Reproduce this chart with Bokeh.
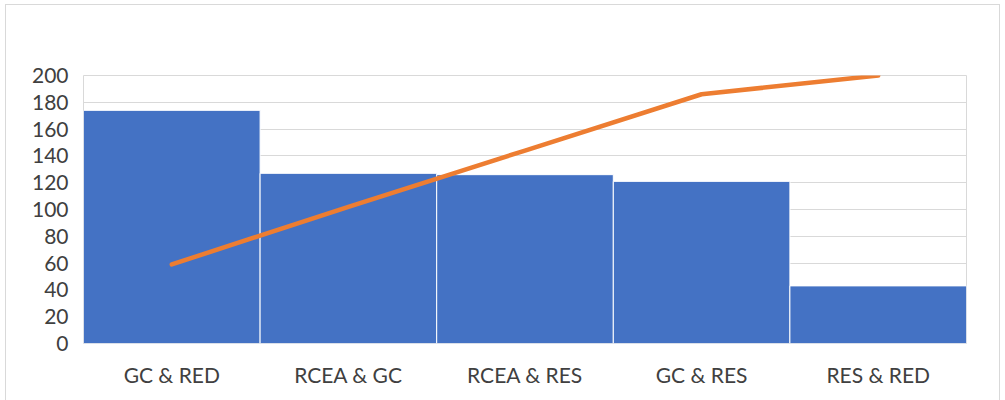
from bokeh.plotting import figure
from bokeh.models import FactorRange, Range1d, FixedTicker, ColumnDataSource
from bokeh.embed import file_html
from bokeh.resources import INLINE

categories = ["GC & RED", "RCEA & GC", "RCEA & RES", "GC & RES", "RES & RED"]
bar_values = [174, 127, 126, 121, 43]
line_values = [59, 102, 144, 186, 200]
y_ticks = [0, 20, 40, 60, 80, 100, 120, 140, 160, 180, 200]

src = ColumnDataSource(data=dict(cat=categories, bar=bar_values, cum=line_values))

p = figure(width=995, height=400, x_range=FactorRange(*categories, range_padding=0),
           y_range=Range1d(0, 200), output_backend="svg", toolbar_location=None,
           min_border_left=77, min_border_right=35, min_border_top=70, min_border_bottom=62)
p.margin = (4, 0, 0, 5)
p.styles = {"border": "1px solid #d9d9d9", "box-sizing": "border-box"}

p.vbar(x="cat", top="bar", width=1.0, source=src, fill_color="#4472C4",
       line_color="white", line_width=1)
p.line(x="cat", y="cum", source=src, line_color="#ED7D31", line_width=4.5,
       line_cap="round", line_join="round")

p.outline_line_color = "#d9d9d9"
p.xgrid.grid_line_color = None
p.ygrid.grid_line_color = "#d9d9d9"
p.ygrid.level = "underlay"
p.yaxis.ticker = FixedTicker(ticks=y_ticks)
p.yaxis.minor_tick_line_color = None
for ax in (p.xaxis, p.yaxis):
    ax.axis_line_color = None
    ax.major_tick_line_color = None
    ax.major_label_text_font = "Lato"
    ax.major_label_text_font_size = "21px"
    ax.major_label_text_color = "#404040"
p.yaxis.major_label_standoff = 9
p.xaxis.major_label_standoff = 12

open("out.html", "w").write(file_html(p, INLINE))
